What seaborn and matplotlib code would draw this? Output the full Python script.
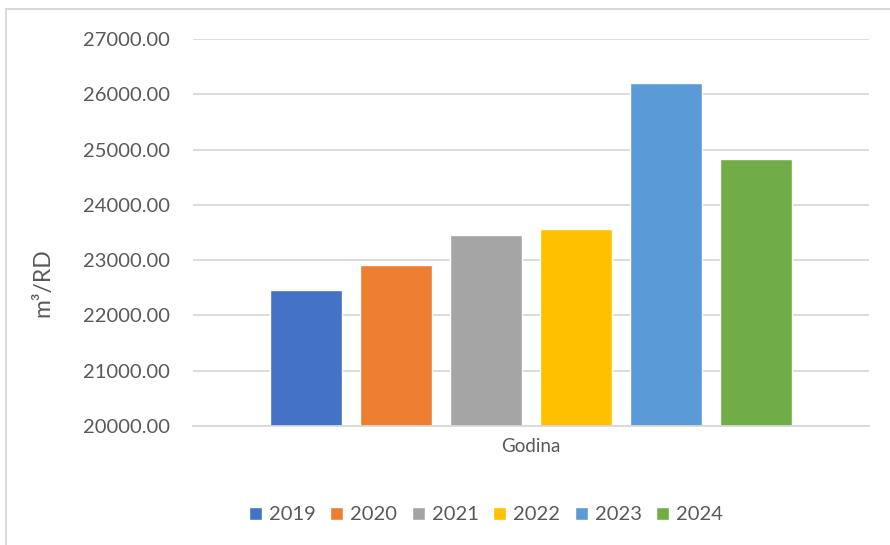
import matplotlib
matplotlib.use("Agg")
import matplotlib.pyplot as plt
from matplotlib.lines import Line2D
import seaborn as sns
import pandas as pd

# Annual values (m³/RD), one bar per year within the single "Godina" group
years = ["2019", "2020", "2021", "2022", "2023", "2024"]
values = [22460, 22910, 23450, 23560, 26200, 24825]
colors = ["#4472C4", "#ED7D31", "#A5A5A5", "#FFC000", "#5B9BD5", "#70AD47"]
category = "Godina"
y_ticks = [20000, 21000, 22000, 23000, 24000, 25000, 26000, 27000]

df = pd.DataFrame({"cat": [category] * len(years), "year": years, "value": values})

sns.set_theme(style="white")
plt.rcParams["font.family"] = ["Lato", "DejaVu Sans"]

text_color = "#595959"
grid_color = "#D9D9D9"

fig = plt.figure(figsize=(8.9, 5.45), dpi=100)
ax = fig.add_axes([193 / 890, 1 - 426 / 545, (869 - 193) / 890, (426 - 39) / 545])

sns.barplot(data=df, x="cat", y="value", hue="year", palette=colors,
            width=0.8, gap=0.2, saturation=1, ax=ax, legend=True)

ax.set_ylim(y_ticks[0], y_ticks[-1])
ax.set_yticks(y_ticks)
ax.set_yticklabels([f"{v:.2f}" for v in y_ticks], color=text_color, fontsize=14.5)
ax.tick_params(axis="y", length=0, pad=16.5)
ax.tick_params(axis="x", length=0, pad=9, labelsize=13.5, labelcolor=text_color)
ax.set_xlim(-0.5, 0.5)
ax.set_xlabel("")
ax.set_ylabel("m³/RD", color=text_color, fontsize=16.5)
ax.yaxis.set_label_coords((53 - 193) / (869 - 193), (426 - 283) / (426 - 39))

ax.yaxis.grid(True, color=grid_color, linewidth=1.3)
ax.set_axisbelow(True)
for side in ["top", "right", "left"]:
    ax.spines[side].set_visible(False)
ax.spines["bottom"].set_color(grid_color)
ax.spines["bottom"].set_linewidth(1.3)

# Legend along the bottom
handles, labels = ax.get_legend_handles_labels()
ax.get_legend().remove()
fig.legend(handles, labels, loc="center", bbox_to_anchor=(486 / 890, 1 - 515 / 545),
           ncol=len(years), frameon=False, fontsize=14.5, labelcolor=text_color,
           handlelength=0.65, handleheight=0.65, handletextpad=0.35, columnspacing=0.72)

# Chart-area frame (top and left edges)
fig.add_artist(Line2D([6 / 890, 1.0], [1 - 9 / 545, 1 - 9 / 545], color="#D9D9D9",
                      linewidth=1.5, transform=fig.transFigure))
fig.add_artist(Line2D([6 / 890, 6 / 890], [0, 1 - 9 / 545], color="#D9D9D9",
                      linewidth=1.5, transform=fig.transFigure))

fig.savefig("out.png", dpi=100)
